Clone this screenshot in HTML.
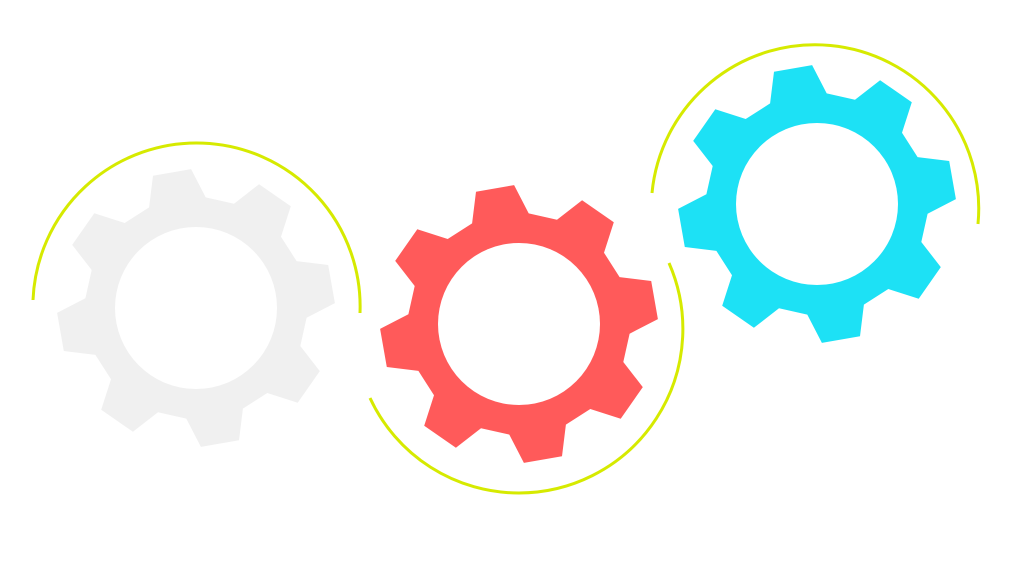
<!DOCTYPE html>
<html><head><style>html,body{margin:0;padding:0;background:#fff;width:1024px;height:563px;overflow:hidden}</style></head>
<body>
<svg id="s" width="1024" height="563" viewBox="0 0 1024 563" xmlns="http://www.w3.org/2000/svg">
<g fill="none" stroke="#d6ea00" stroke-width="3">
<path d="M33,300 A163,163 0 0 1 360,313"/>
<path d="M370,398 A164,164 0 0 0 519,493 A164,164 0 0 0 669,263"/>
<path d="M652,193 A162,162 0 0 1 978,224"/>
</g>
</svg>
<script>
var s=document.getElementById('s');
function gear(cx,cy,col){
 var pts=[];
 for(var k=0;k<8;k++){
  var a=-100+k*45;
  [[a-15,111],[a-8,139],[a+8,139],[a+15,111]].forEach(function(p){
   var r=p[0]*Math.PI/180;pts.push((cx+p[1]*Math.cos(r)).toFixed(1)+','+(cy+p[1]*Math.sin(r)).toFixed(1));
  });
 }
 var pg=document.createElementNS('http://www.w3.org/2000/svg','polygon');
 pg.setAttribute('points',pts.join(' '));pg.setAttribute('fill',col);s.appendChild(pg);
 var c=document.createElementNS('http://www.w3.org/2000/svg','circle');
 c.setAttribute('cx',cx);c.setAttribute('cy',cy);c.setAttribute('r',81);c.setAttribute('fill','#fff');s.appendChild(c);
}
gear(196,308,'#f0f0f0');
gear(519,324,'#ff5a5a');
gear(817,204,'#1de1f5');
</script>
</body></html>
